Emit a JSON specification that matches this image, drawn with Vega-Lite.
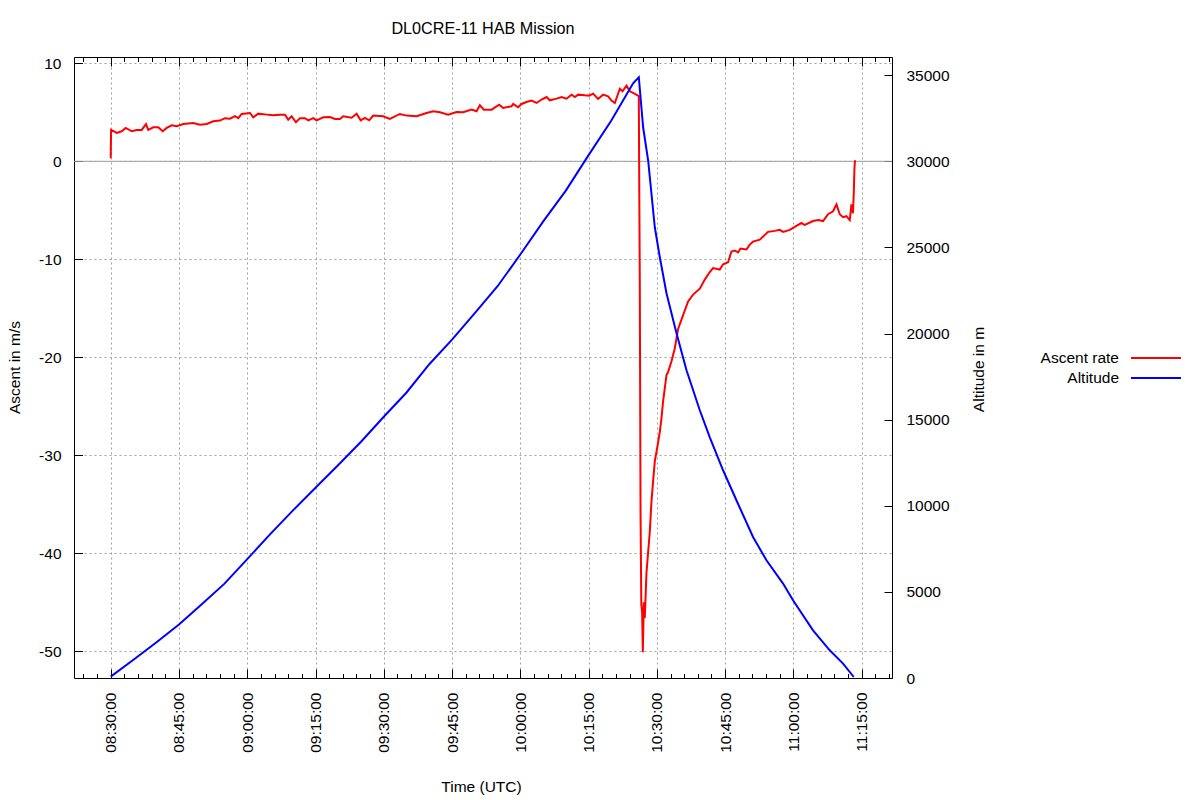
{
  "$schema": "https://vega.github.io/schema/vega-lite/v5.json",
  "width": 818,
  "height": 621,
  "autosize": {"type": "none"},
  "padding": {"left": 74, "top": 57, "right": 308, "bottom": 122},
  "title": {
    "text": "DL0CRE-11 HAB Mission",
    "anchor": "middle",
    "offset": 19,
    "fontSize": 16.2,
    "fontWeight": "normal",
    "font": "Liberation Sans",
    "color": "#000000"
  },
  "layer": [
    {
      "layer": [
        {
          "data": {"values": [{"v": 0}]},
          "mark": {"type": "rule", "color": "#a0a0a0", "strokeWidth": 1},
          "encoding": {
            "y": {
              "field": "v",
              "type": "quantitative",
              "scale": {"domain": [-52.72, 10.64], "nice": false, "zero": false},
              "axis": {
                "orient": "left",
                "title": "Ascent in m/s",
                "titleX": -60,
                "titleY": 310,
                "titleAngle": 270,
                "titleAlign": "center",
                "titleBaseline": "middle",
                "values": [-50, -40, -30, -20, -10, 0, 10],
                "labelExpr": "datum.value + ''",
                "tickSize": -8.5,
                "labelPadding": 21.5,
                "grid": true
              }
            }
          }
        },
        {
          "data": {
            "values": [
              {"t": "2000-01-01T08:30:00Z", "v": 0.3}, {"t": "2000-01-01T08:30:05Z", "v": 3.2}, {"t": "2000-01-01T08:31:19Z", "v": 2.9},
              {"t": "2000-01-01T08:32:25Z", "v": 3.06}, {"t": "2000-01-01T08:33:18Z", "v": 3.4}, {"t": "2000-01-01T08:34:37Z", "v": 3.06},
              {"t": "2000-01-01T08:35:43Z", "v": 3.2}, {"t": "2000-01-01T08:36:49Z", "v": 3.2}, {"t": "2000-01-01T08:37:45Z", "v": 3.8},
              {"t": "2000-01-01T08:38:15Z", "v": 3.2}, {"t": "2000-01-01T08:39:21Z", "v": 3.47}, {"t": "2000-01-01T08:40:27Z", "v": 3.47},
              {"t": "2000-01-01T08:41:25Z", "v": 3.06}, {"t": "2000-01-01T08:42:18Z", "v": 3.4}, {"t": "2000-01-01T08:43:24Z", "v": 3.67},
              {"t": "2000-01-01T08:44:30Z", "v": 3.57}, {"t": "2000-01-01T08:45:57Z", "v": 3.8}, {"t": "2000-01-01T08:48:08Z", "v": 3.9},
              {"t": "2000-01-01T08:49:37Z", "v": 3.74}, {"t": "2000-01-01T08:51:05Z", "v": 3.8}, {"t": "2000-01-01T08:52:32Z", "v": 4.08},
              {"t": "2000-01-01T08:54:00Z", "v": 4.15}, {"t": "2000-01-01T08:55:06Z", "v": 4.4}, {"t": "2000-01-01T08:56:12Z", "v": 4.35},
              {"t": "2000-01-01T08:57:18Z", "v": 4.6}, {"t": "2000-01-01T08:58:02Z", "v": 4.4}, {"t": "2000-01-01T08:58:46Z", "v": 4.83},
              {"t": "2000-01-01T09:00:36Z", "v": 4.93}, {"t": "2000-01-01T09:01:19Z", "v": 4.49}, {"t": "2000-01-01T09:02:25Z", "v": 4.86},
              {"t": "2000-01-01T09:04:16Z", "v": 4.76}, {"t": "2000-01-01T09:05:43Z", "v": 4.69}, {"t": "2000-01-01T09:07:11Z", "v": 4.76},
              {"t": "2000-01-01T09:08:17Z", "v": 4.76}, {"t": "2000-01-01T09:09:00Z", "v": 4.25}, {"t": "2000-01-01T09:09:45Z", "v": 4.6},
              {"t": "2000-01-01T09:10:42Z", "v": 3.98}, {"t": "2000-01-01T09:11:35Z", "v": 4.4}, {"t": "2000-01-01T09:12:40Z", "v": 4.4},
              {"t": "2000-01-01T09:13:24Z", "v": 4.18}, {"t": "2000-01-01T09:14:30Z", "v": 4.4}, {"t": "2000-01-01T09:15:14Z", "v": 4.18},
              {"t": "2000-01-01T09:16:42Z", "v": 4.49}, {"t": "2000-01-01T09:18:10Z", "v": 4.52}, {"t": "2000-01-01T09:19:16Z", "v": 4.32},
              {"t": "2000-01-01T09:20:22Z", "v": 4.32}, {"t": "2000-01-01T09:21:05Z", "v": 4.6}, {"t": "2000-01-01T09:22:56Z", "v": 4.45},
              {"t": "2000-01-01T09:24:02Z", "v": 4.86}, {"t": "2000-01-01T09:24:55Z", "v": 4.18}, {"t": "2000-01-01T09:25:51Z", "v": 4.42},
              {"t": "2000-01-01T09:26:48Z", "v": 4.18}, {"t": "2000-01-01T09:27:41Z", "v": 4.66}, {"t": "2000-01-01T09:29:52Z", "v": 4.59},
              {"t": "2000-01-01T09:31:20Z", "v": 4.32}, {"t": "2000-01-01T09:33:32Z", "v": 4.83}, {"t": "2000-01-01T09:35:01Z", "v": 4.66},
              {"t": "2000-01-01T09:37:13Z", "v": 4.59}, {"t": "2000-01-01T09:39:24Z", "v": 4.93}, {"t": "2000-01-01T09:40:51Z", "v": 5.1},
              {"t": "2000-01-01T09:42:20Z", "v": 5.0}, {"t": "2000-01-01T09:44:09Z", "v": 4.76}, {"t": "2000-01-01T09:45:59Z", "v": 5.03},
              {"t": "2000-01-01T09:47:26Z", "v": 5.0}, {"t": "2000-01-01T09:49:17Z", "v": 5.27}, {"t": "2000-01-01T09:50:23Z", "v": 5.1},
              {"t": "2000-01-01T09:51:07Z", "v": 5.71}, {"t": "2000-01-01T09:51:59Z", "v": 5.27}, {"t": "2000-01-01T09:53:41Z", "v": 5.27},
              {"t": "2000-01-01T09:55:21Z", "v": 5.78}, {"t": "2000-01-01T09:56:14Z", "v": 5.44}, {"t": "2000-01-01T09:58:04Z", "v": 5.61},
              {"t": "2000-01-01T09:58:26Z", "v": 5.85}, {"t": "2000-01-01T09:59:31Z", "v": 5.51}, {"t": "2000-01-01T10:00:16Z", "v": 5.85},
              {"t": "2000-01-01T10:01:22Z", "v": 6.05}, {"t": "2000-01-01T10:02:28Z", "v": 6.19}, {"t": "2000-01-01T10:03:34Z", "v": 5.95},
              {"t": "2000-01-01T10:04:40Z", "v": 6.3}, {"t": "2000-01-01T10:05:46Z", "v": 6.56}, {"t": "2000-01-01T10:06:29Z", "v": 6.22},
              {"t": "2000-01-01T10:07:58Z", "v": 6.39}, {"t": "2000-01-01T10:09:04Z", "v": 6.56}, {"t": "2000-01-01T10:10:09Z", "v": 6.39},
              {"t": "2000-01-01T10:11:15Z", "v": 6.8}, {"t": "2000-01-01T10:11:59Z", "v": 6.56}, {"t": "2000-01-01T10:12:42Z", "v": 6.8},
              {"t": "2000-01-01T10:14:10Z", "v": 6.73}, {"t": "2000-01-01T10:15:07Z", "v": 6.7}, {"t": "2000-01-01T10:16:00Z", "v": 6.9},
              {"t": "2000-01-01T10:17:05Z", "v": 6.36}, {"t": "2000-01-01T10:18:11Z", "v": 6.8}, {"t": "2000-01-01T10:19:17Z", "v": 6.63},
              {"t": "2000-01-01T10:20:02Z", "v": 6.19}, {"t": "2000-01-01T10:20:46Z", "v": 5.95}, {"t": "2000-01-01T10:21:52Z", "v": 7.4},
              {"t": "2000-01-01T10:22:27Z", "v": 7.14}, {"t": "2000-01-01T10:23:20Z", "v": 7.72}, {"t": "2000-01-01T10:24:04Z", "v": 7.14},
              {"t": "2000-01-01T10:24:47Z", "v": 6.97}, {"t": "2000-01-01T10:25:45Z", "v": 6.73}, {"t": "2000-01-01T10:26:02Z", "v": 6.63},
              {"t": "2000-01-01T10:26:06Z", "v": 0.3}, {"t": "2000-01-01T10:26:15Z", "v": -12.2}, {"t": "2000-01-01T10:26:25Z", "v": -35.9},
              {"t": "2000-01-01T10:26:35Z", "v": -45.2}, {"t": "2000-01-01T10:26:46Z", "v": -46}, {"t": "2000-01-01T10:26:55Z", "v": -50.1},
              {"t": "2000-01-01T10:27:08Z", "v": -45}, {"t": "2000-01-01T10:27:21Z", "v": -46.6}, {"t": "2000-01-01T10:27:43Z", "v": -42},
              {"t": "2000-01-01T10:28:27Z", "v": -37.8}, {"t": "2000-01-01T10:28:49Z", "v": -34.7}, {"t": "2000-01-01T10:29:11Z", "v": -32.6},
              {"t": "2000-01-01T10:29:33Z", "v": -30.6}, {"t": "2000-01-01T10:30:03Z", "v": -29.3}, {"t": "2000-01-01T10:30:39Z", "v": -27.6},
              {"t": "2000-01-01T10:31:01Z", "v": -26.2}, {"t": "2000-01-01T10:31:22Z", "v": -24.5}, {"t": "2000-01-01T10:31:44Z", "v": -23.2},
              {"t": "2000-01-01T10:32:07Z", "v": -21.8}, {"t": "2000-01-01T10:32:28Z", "v": -21.5}, {"t": "2000-01-01T10:33:13Z", "v": -20.4},
              {"t": "2000-01-01T10:33:56Z", "v": -19.1}, {"t": "2000-01-01T10:34:40Z", "v": -17.1}, {"t": "2000-01-01T10:35:46Z", "v": -15.7},
              {"t": "2000-01-01T10:36:52Z", "v": -14.3}, {"t": "2000-01-01T10:37:58Z", "v": -13.6}, {"t": "2000-01-01T10:39:26Z", "v": -13.0},
              {"t": "2000-01-01T10:40:32Z", "v": -12.07}, {"t": "2000-01-01T10:41:38Z", "v": -11.3}, {"t": "2000-01-01T10:42:21Z", "v": -10.9},
              {"t": "2000-01-01T10:43:49Z", "v": -11.05}, {"t": "2000-01-01T10:44:33Z", "v": -10.5}, {"t": "2000-01-01T10:45:39Z", "v": -10.3},
              {"t": "2000-01-01T10:46:23Z", "v": -9.2}, {"t": "2000-01-01T10:47:07Z", "v": -9.1}, {"t": "2000-01-01T10:47:50Z", "v": -9.3},
              {"t": "2000-01-01T10:48:22Z", "v": -8.9}, {"t": "2000-01-01T10:49:41Z", "v": -9.0}, {"t": "2000-01-01T10:50:25Z", "v": -8.5},
              {"t": "2000-01-01T10:51:08Z", "v": -8.2}, {"t": "2000-01-01T10:52:37Z", "v": -8.0}, {"t": "2000-01-01T10:54:26Z", "v": -7.2},
              {"t": "2000-01-01T10:55:54Z", "v": -7.1}, {"t": "2000-01-01T10:57:00Z", "v": -7.0}, {"t": "2000-01-01T10:57:44Z", "v": -7.2},
              {"t": "2000-01-01T10:59:12Z", "v": -7.0}, {"t": "2000-01-01T11:00:40Z", "v": -6.6}, {"t": "2000-01-01T11:01:46Z", "v": -6.3},
              {"t": "2000-01-01T11:02:30Z", "v": -6.5}, {"t": "2000-01-01T11:04:19Z", "v": -6.1}, {"t": "2000-01-01T11:05:25Z", "v": -6.0},
              {"t": "2000-01-01T11:06:31Z", "v": -6.1}, {"t": "2000-01-01T11:07:37Z", "v": -5.4}, {"t": "2000-01-01T11:08:43Z", "v": -5.1},
              {"t": "2000-01-01T11:09:28Z", "v": -4.4}, {"t": "2000-01-01T11:10:11Z", "v": -5.4}, {"t": "2000-01-01T11:10:55Z", "v": -5.7},
              {"t": "2000-01-01T11:11:39Z", "v": -5.6}, {"t": "2000-01-01T11:12:23Z", "v": -6.0}, {"t": "2000-01-01T11:12:45Z", "v": -4.4},
              {"t": "2000-01-01T11:13:06Z", "v": -5.3}, {"t": "2000-01-01T11:13:16Z", "v": -3.2}, {"t": "2000-01-01T11:13:25Z", "v": -0.7},
              {"t": "2000-01-01T11:13:32Z", "v": 0.1}
            ]
          },
          "mark": {"type": "line", "strokeWidth": 2},
          "encoding": {
            "x": {
              "field": "t",
              "type": "temporal",
              "scale": {"type": "utc", "domain": [946714916000, 946725700000]},
              "axis": {
                "orient": "bottom",
                "title": "Time (UTC)",
                "titleX": 407,
                "titleY": 108,
                "titleBaseline": "middle",
                "values": [946715400000, 946716300000, 946717200000, 946718100000, 946719000000, 946719900000,
                           946720800000, 946721700000, 946722600000, 946723500000, 946724400000, 946725300000],
                "format": "%H:%M:%S",
                "labelAngle": 270,
                "labelOverlap": false,
                "labelPadding": 23,
                "tickSize": -9,
                "grid": true
              }
            },
            "y": {
              "field": "v",
              "type": "quantitative",
              "scale": {"domain": [-52.72, 10.64], "nice": false, "zero": false},
              "axis": {
                "orient": "left",
                "title": "Ascent in m/s",
                "titleX": -60,
                "titleY": 310,
                "titleAngle": 270,
                "titleAlign": "center",
                "titleBaseline": "middle",
                "values": [-50, -40, -30, -20, -10, 0, 10],
                "labelExpr": "datum.value + ''",
                "tickSize": -8.5,
                "labelPadding": 21.5,
                "grid": true
              }
            },
            "color": {
              "datum": "Ascent rate",
              "scale": {"domain": ["Ascent rate", "Altitude"], "range": ["#ff0000", "#0000ff"]},
              "legend": {
                "orient": "none",
                "legendX": 1071,
                "legendY": 290,
                "title": null,
                "symbolType": "M-2.5,0H2.5",
                "symbolSize": 400,
                "symbolStrokeWidth": 2,
                "labelAlign": "right",
                "labelOffset": -48,
                "rowPadding": 0
              }
            }
          }
        }
      ]
    },
    {
      "data": {
        "values": [
          {"t": "2000-01-01T08:30:00Z", "a": 80}, {"t": "2000-01-01T08:35:00Z", "a": 1060}, {"t": "2000-01-01T08:40:00Z", "a": 2060},
          {"t": "2000-01-01T08:45:00Z", "a": 3110}, {"t": "2000-01-01T08:50:00Z", "a": 4285}, {"t": "2000-01-01T08:55:00Z", "a": 5480},
          {"t": "2000-01-01T09:00:00Z", "a": 6900}, {"t": "2000-01-01T09:05:00Z", "a": 8340}, {"t": "2000-01-01T09:10:00Z", "a": 9720},
          {"t": "2000-01-01T09:15:00Z", "a": 11050}, {"t": "2000-01-01T09:20:00Z", "a": 12370}, {"t": "2000-01-01T09:25:00Z", "a": 13720},
          {"t": "2000-01-01T09:30:00Z", "a": 15170}, {"t": "2000-01-01T09:35:00Z", "a": 16580}, {"t": "2000-01-01T09:40:00Z", "a": 18220},
          {"t": "2000-01-01T09:45:00Z", "a": 19650}, {"t": "2000-01-01T09:50:00Z", "a": 21190}, {"t": "2000-01-01T09:55:00Z", "a": 22750},
          {"t": "2000-01-01T10:00:00Z", "a": 24590}, {"t": "2000-01-01T10:05:00Z", "a": 26500}, {"t": "2000-01-01T10:10:00Z", "a": 28300},
          {"t": "2000-01-01T10:15:00Z", "a": 30360}, {"t": "2000-01-01T10:20:00Z", "a": 32370}, {"t": "2000-01-01T10:24:47Z", "a": 34536},
          {"t": "2000-01-01T10:26:02Z", "a": 34884},
          {"t": "2000-01-01T10:26:59Z", "a": 31980}, {"t": "2000-01-01T10:28:05Z", "a": 30064}, {"t": "2000-01-01T10:29:33Z", "a": 26173},
          {"t": "2000-01-01T10:30:39Z", "a": 24431}, {"t": "2000-01-01T10:32:07Z", "a": 22340}, {"t": "2000-01-01T10:34:19Z", "a": 20017},
          {"t": "2000-01-01T10:36:31Z", "a": 17869}, {"t": "2000-01-01T10:39:26Z", "a": 15546}, {"t": "2000-01-01T10:41:38Z", "a": 13978},
          {"t": "2000-01-01T10:44:33Z", "a": 12062}, {"t": "2000-01-01T10:47:29Z", "a": 10320}, {"t": "2000-01-01T10:51:08Z", "a": 8188},
          {"t": "2000-01-01T10:54:05Z", "a": 6835}, {"t": "2000-01-01T10:57:44Z", "a": 5482}, {"t": "2000-01-01T10:59:55Z", "a": 4512},
          {"t": "2000-01-01T11:04:19Z", "a": 2770}, {"t": "2000-01-01T11:07:59Z", "a": 1608}, {"t": "2000-01-01T11:10:55Z", "a": 836},
          {"t": "2000-01-01T11:13:16Z", "a": 58}
        ]
      },
      "mark": {"type": "line", "strokeWidth": 2},
      "encoding": {
        "x": {
          "field": "t",
          "type": "temporal",
          "scale": {"type": "utc", "domain": [946714916000, 946725700000]},
          "axis": {
            "orient": "top",
            "title": null,
            "labels": false,
            "grid": false,
            "values": [946715400000, 946716300000, 946717200000, 946718100000, 946719000000, 946719900000,
                       946720800000, 946721700000, 946722600000, 946723500000, 946724400000, 946725300000],
            "tickSize": -9
          }
        },
        "y": {
          "field": "a",
          "type": "quantitative",
          "scale": {"domain": [0, 36060], "nice": false},
          "axis": {
            "orient": "right",
            "title": "Altitude in m",
            "titleX": 86,
            "titleY": 312,
            "titleAngle": 270,
            "titleAlign": "center",
            "titleBaseline": "middle",
            "values": [0, 5000, 10000, 15000, 20000, 25000, 30000, 35000],
            "format": "d",
            "tickSize": -8,
            "labelPadding": 22,
            "grid": false
          }
        },
        "color": {"datum": "Altitude"}
      }
    },
    {
      "data": {"values": []},
      "mark": {"type": "rule"},
      "encoding": {
        "x": {
          "field": "t",
          "type": "temporal",
          "scale": {"type": "utc", "domain": [946714916000, 946725700000]},
          "axis": {
            "orient": "bottom",
            "title": null,
            "labels": false,
            "grid": false,
            "domain": false,
            "tickSize": -4.5,
            "values": [946715040000, 946715220000, 946715580000, 946715760000, 946715940000, 946716120000,
                       946716480000, 946716660000, 946716840000, 946717020000, 946717380000, 946717560000,
                       946717740000, 946717920000, 946718280000, 946718460000, 946718640000, 946718820000,
                       946719180000, 946719360000, 946719540000, 946719720000, 946720080000, 946720260000,
                       946720440000, 946720620000, 946720980000, 946721160000, 946721340000, 946721520000,
                       946721880000, 946722060000, 946722240000, 946722420000, 946722780000, 946722960000,
                       946723140000, 946723320000, 946723680000, 946723860000, 946724040000, 946724220000,
                       946724580000, 946724760000, 946724940000, 946725120000, 946725480000, 946725660000]
          }
        }
      }
    },
    {
      "data": {"values": []},
      "mark": {"type": "rule"},
      "encoding": {
        "x": {
          "field": "t",
          "type": "temporal",
          "scale": {"type": "utc", "domain": [946714916000, 946725700000]},
          "axis": {
            "orient": "top",
            "title": null,
            "labels": false,
            "grid": false,
            "domain": false,
            "tickSize": -4.5,
            "values": [946715040000, 946715220000, 946715580000, 946715760000, 946715940000, 946716120000,
                       946716480000, 946716660000, 946716840000, 946717020000, 946717380000, 946717560000,
                       946717740000, 946717920000, 946718280000, 946718460000, 946718640000, 946718820000,
                       946719180000, 946719360000, 946719540000, 946719720000, 946720080000, 946720260000,
                       946720440000, 946720620000, 946720980000, 946721160000, 946721340000, 946721520000,
                       946721880000, 946722060000, 946722240000, 946722420000, 946722780000, 946722960000,
                       946723140000, 946723320000, 946723680000, 946723860000, 946724040000, 946724220000,
                       946724580000, 946724760000, 946724940000, 946725120000, 946725480000, 946725660000]
          }
        }
      }
    }
  ],
  "resolve": {
    "scale": {"y": "independent"},
    "axis": {"x": "independent", "y": "independent"}
  },
  "config": {
    "view": {"stroke": null},
    "axis": {
      "labelFont": "Liberation Sans",
      "labelFontSize": 15.5,
      "labelColor": "#000000",
      "titleFont": "Liberation Sans",
      "titleFontSize": 15.5,
      "titleFontWeight": "normal",
      "titleColor": "#000000",
      "domainColor": "#000000",
      "tickColor": "#000000",
      "gridColor": "#a0a0a0",
      "gridDash": [2, 3]
    },
    "legend": {
      "labelFont": "Liberation Sans",
      "labelFontSize": 15.5,
      "labelColor": "#000000"
    }
  }
}
